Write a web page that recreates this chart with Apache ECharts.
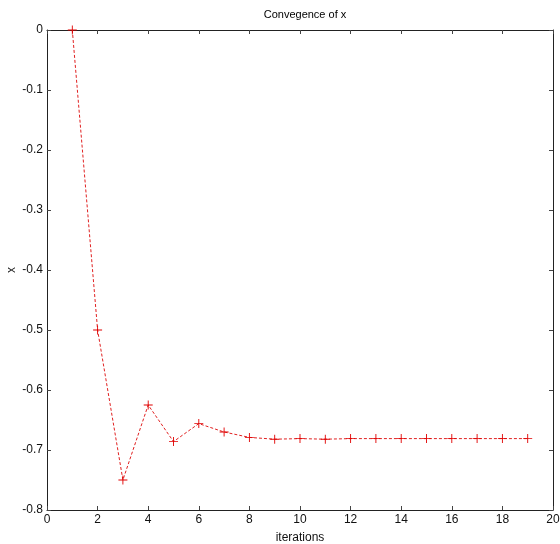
<!DOCTYPE html>
<html>
<head>
<meta charset="utf-8">
<script src="https://cdn.jsdelivr.net/npm/echarts@6/dist/echarts.min.js"></script>
<style>
  html, body { margin: 0; padding: 0; background: #fff; }
  #main { width: 560px; height: 544px; }
</style>
</head>
<body>
<div id="main"></div>
<script>
// iterations and the x estimate
var iterations = [1, 2, 3, 4, 5, 6, 7, 8, 9, 10, 11, 12, 13, 14, 15, 16, 17, 18, 19];
var xValues = [0, -0.5, -0.75, -0.625, -0.686, -0.656, -0.670, -0.679, -0.682, -0.681,
               -0.682, -0.681, -0.681, -0.681, -0.681, -0.681, -0.681, -0.681, -0.681];

var chart = echarts.init(document.getElementById('main'));
var labelFont = { color: '#111', fontSize: 12, fontFamily: 'Liberation Sans, Arial' };
var plus = 'path://M4.5,0h1v10h-1z M0,4.5h10v1h-10z';

var boxAxis = {
    axisLine: { show: true, onZero: false, lineStyle: { color: '#222', width: 1 } },
    axisTick: { show: true, inside: true, length: 4, lineStyle: { color: '#444' } },
    splitLine: { show: false }
};

option = {
    animation: false,
    title: {
        text: 'Convegence of x',
        left: 300,
        top: 4,
        textAlign: 'center',
        textStyle: { fontSize: 11, fontWeight: 'normal', color: '#000', fontFamily: 'Liberation Sans Narrow, Liberation Sans, Arial' }
    },
    grid: { left: 47, top: 30, right: 7, bottom: 34, outerBoundsMode: 'none', containLabel: false },
    xAxis: [
        Object.assign({
            type: 'value', min: 0, max: 20, interval: 2, position: 'bottom',
            name: 'iterations', nameLocation: 'middle', nameGap: 22, nameMoveOverlap: false,
            nameTextStyle: labelFont,
            axisLabel: Object.assign({ margin: 4 }, labelFont)
        }, boxAxis),
        Object.assign({
            type: 'value', min: 0, max: 20, interval: 2, position: 'top',
            axisLabel: { show: false }
        }, boxAxis)
    ],
    yAxis: [
        Object.assign({
            type: 'value', min: -0.8, max: 0, interval: 0.1, position: 'left',
            name: 'x', nameLocation: 'middle', nameGap: 29, nameMoveOverlap: false,
            nameTextStyle: labelFont,
            axisLabel: Object.assign({ margin: 4 }, labelFont)
        }, boxAxis),
        Object.assign({
            type: 'value', min: -0.8, max: 0, interval: 0.1, position: 'right',
            axisLabel: { show: false }
        }, boxAxis)
    ],
    series: [{
        type: 'line',
        data: iterations.map(function (it, i) { return [it, xValues[i]]; }),
        symbol: plus,
        symbolSize: 9,
        showAllSymbol: true,
        itemStyle: { color: '#e00000' },
        lineStyle: { color: '#e02020', width: 1, type: [3, 2] }
    }]
};
chart.setOption(option);
</script>
</body>
</html>
